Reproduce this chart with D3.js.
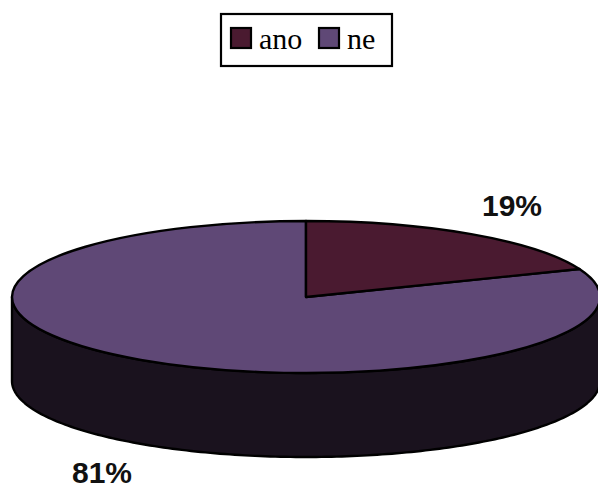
<!DOCTYPE html>
<html>
<head>
<meta charset="utf-8">
<script src="https://cdn.jsdelivr.net/npm/d3@7/dist/d3.min.js"></script>
<style>
  html, body { margin: 0; padding: 0; background: #fff; overflow: hidden; }
  svg { display: block; }
  .outline { vector-effect: non-scaling-stroke; }
</style>
</head>
<body>
<svg id="chart" width="598" height="485"></svg>
<script>
// Survey answers and their shares in percent
const categories = ["ano", "ne"];
const shares = [19, 81];
const sliceColors = ["#4a1a30", "#5f4876"];
const sideColor = "#1a121e";

const svg = d3.select("#chart");
const cx = 306, cy = 297, rx = 294, ry = 76, depth = 84;

const color = d3.scaleOrdinal().domain(categories).range(sliceColors);
const pie = d3.pie().sort(null).value(d => d.share);
const slices = pie(categories.map((name, i) => ({ name, share: shares[i] })));

// Rim of the disc: the front half of the ellipse, swept down by the depth
const frontAngles = d3.range(0, 181).map(d => d * Math.PI / 180);
const rim = d3.area()
  .x(t => cx + rx * Math.cos(t))
  .y0(t => cy + ry * Math.sin(t))
  .y1(t => cy + ry * Math.sin(t) + depth);

svg.append("path")
  .attr("d", rim(frontAngles))
  .attr("fill", sideColor)
  .attr("stroke", "#000")
  .attr("stroke-width", 2.4)
  .attr("stroke-linejoin", "round");

// Top face: a unit pie squashed into the ellipse
const arc = d3.arc().innerRadius(0).outerRadius(1);
svg.append("g")
  .attr("transform", `translate(${cx},${cy}) scale(${rx},${ry})`)
  .selectAll("path")
  .data(slices.slice().reverse())
  .join("path")
  .attr("class", "outline")
  .attr("d", arc)
  .attr("fill", d => color(d.data.name))
  .attr("stroke", "#000")
  .attr("stroke-width", 2.4)
  .attr("stroke-linejoin", "round");

// Percentage labels
const labelPositions = [[512, 216], [102, 483]];
svg.append("g")
  .selectAll("text")
  .data(slices)
  .join("text")
  .attr("x", (d, i) => labelPositions[i][0])
  .attr("y", (d, i) => labelPositions[i][1])
  .attr("text-anchor", "middle")
  .attr("font-family", "'Liberation Sans', Arial, sans-serif")
  .attr("font-weight", "bold")
  .attr("font-size", 30)
  .attr("fill", "#111")
  .text(d => `${d.data.share}%`);

// Legend
const legend = svg.append("g");
legend.append("rect")
  .attr("x", 221).attr("y", 14).attr("width", 171).attr("height", 52)
  .attr("fill", "#fff").attr("stroke", "#000").attr("stroke-width", 2.2);

const swatchX = [231, 319];
const legendItems = legend.selectAll("g")
  .data(categories)
  .join("g")
  .attr("transform", (d, i) => `translate(${swatchX[i]},28)`);
legendItems.append("rect")
  .attr("width", 20).attr("height", 20)
  .attr("fill", d => color(d))
  .attr("stroke", "#000").attr("stroke-width", 2.2);
legendItems.append("text")
  .attr("x", 28).attr("y", 21)
  .attr("font-family", "'Liberation Serif', 'Times New Roman', serif")
  .attr("font-size", 30)
  .attr("fill", "#000")
  .text(d => d);
</script>
</body>
</html>
